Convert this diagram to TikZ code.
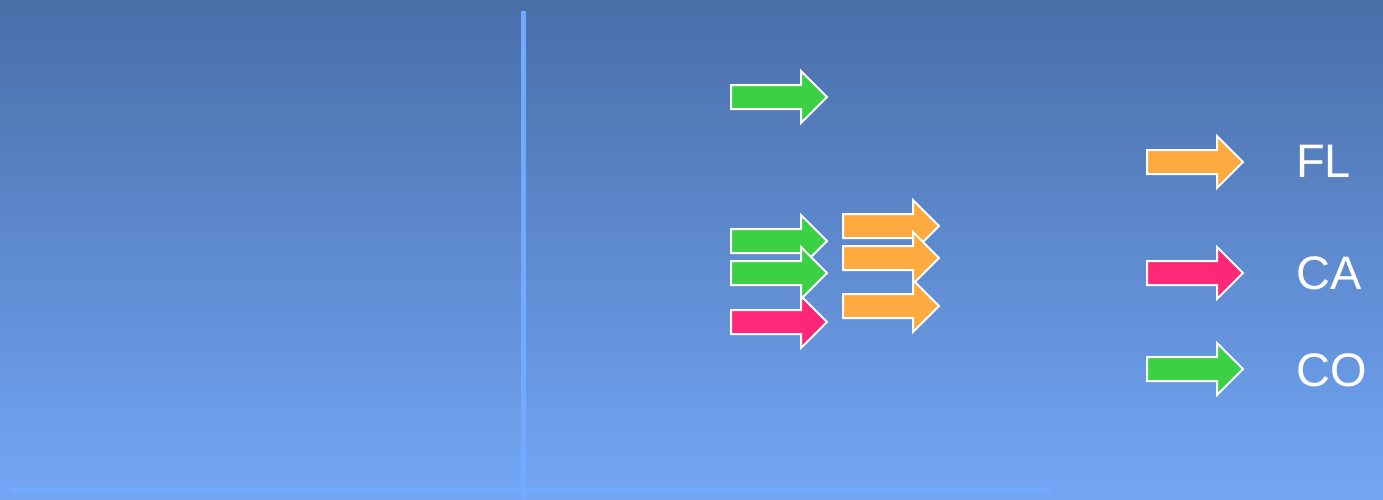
\documentclass[tikz,border=0pt]{standalone}
\usepackage{fontspec}
\setmainfont{Liberation Sans}
\usetikzlibrary{shapes.arrows}

\definecolor{bgtop}{HTML}{4A6EA8}
\definecolor{bgbottom}{HTML}{72A6F5}
\definecolor{axisblue}{HTML}{72AAFF}
\definecolor{florange}{HTML}{FFAA40}
\definecolor{capink}{HTML}{FF2878}
\definecolor{cogreen}{HTML}{3CD044}

\tikzset{
  blockarrow/.style={shape=single arrow, draw=white, line width=2pt, inner xsep=0pt, inner ysep=11pt, outer sep=0pt,
    minimum height=96pt, minimum width=50pt, single arrow head extend=14pt,
    single arrow tip angle=90, single arrow head indent=0pt, anchor=tail},
  flarrow/.style={blockarrow, fill=florange},
  caarrow/.style={blockarrow, fill=capink},
  coarrow/.style={blockarrow, fill=cogreen},
  legendtext/.style={text=white, font=\fontsize{47}{50}\selectfont, anchor=base west, inner sep=0pt}
}

\begin{document}
\begin{tikzpicture}[x=1pt, y=-1pt]
  \useasboundingbox (0,0) rectangle (1383,499);
  \fill[top color=bgtop, bottom color=bgbottom] (0,0) rectangle (1383,499);

  % axes
  \coordinate (ytop) at (523,11);
  \coordinate (ybot) at (523,499);
  \coordinate (xleft) at (10,490);
  \coordinate (xright) at (1050,490);
  \draw[axisblue, line width=5pt] (ytop) -- (ybot);
  \draw[axisblue, line width=4pt] (xleft) -- (xright);

  % first column
  \node[coarrow] (co1) at (731,97) {};
  \node[coarrow] (co2) at (731,241) {};
  \node[coarrow] (co3) at (731,273) {};
  \node[caarrow] (ca1) at (731,322) {};

  % second column
  \node[flarrow] (fl1) at (843,226) {};
  \node[flarrow] (fl2) at (843,258) {};
  \node[flarrow] (fl3) at (843,306) {};

  % legend
  \node[flarrow] (keyfl) at (1147,162) {};
  \node[caarrow] (keyca) at (1147,273) {};
  \node[coarrow] (keyco) at (1147,369) {};
  \node[legendtext] (labfl) at (1296,177) {FL};
  \node[legendtext] (labca) at (1296,289) {CA};
  \node[legendtext] (labco) at (1296,386) {CO};
\end{tikzpicture}
\end{document}
